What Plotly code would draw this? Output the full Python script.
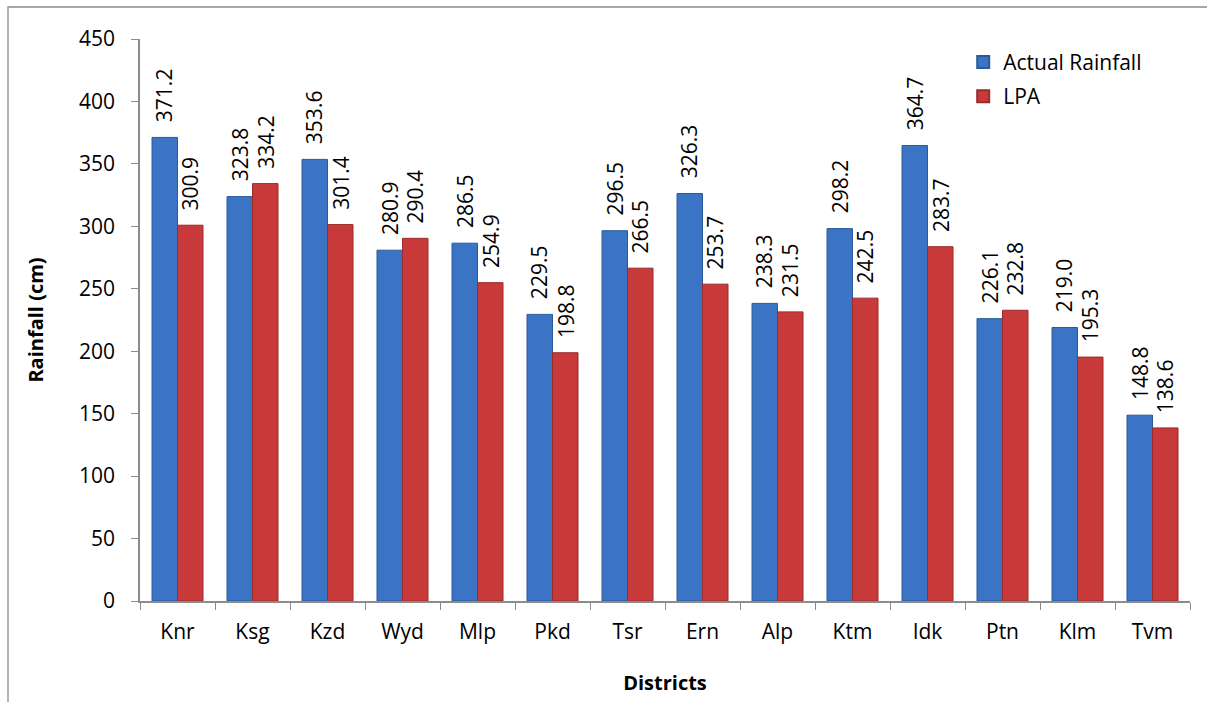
import plotly.graph_objects as go

districts = ["Knr", "Ksg", "Kzd", "Wyd", "Mlp", "Pkd", "Tsr", "Ern", "Alp", "Ktm", "Idk", "Ptn", "Klm", "Tvm"]
actual = [371.2, 323.8, 353.6, 280.9, 286.5, 229.5, 296.5, 326.3, 238.3, 298.2, 364.7, 226.1, 219.0, 148.8]
lpa = [300.9, 334.2, 301.4, 290.4, 254.9, 198.8, 266.5, 253.7, 231.5, 242.5, 283.7, 232.8, 195.3, 138.6]

FONT = "Open Sans"
BLUE = "#3b74c4"
RED = "#c83a3a"

fig = go.Figure()
fig.add_bar(x=districts, y=actual, name="Actual Rainfall", legendgroup="a",
            marker=dict(color=BLUE, line=dict(color="#2b5a9c", width=1)))
fig.add_bar(x=districts, y=lpa, name="LPA", legendgroup="b",
            marker=dict(color=RED, line=dict(color="#9c2b2b", width=1)))

for i, (a, l) in enumerate(zip(actual, lpa)):
    for off, v in ((-0.17, a), (0.17, l)):
        fig.add_annotation(x=i + off, y=v, xref="x", yref="y", text=f"{v:.1f}",
                           textangle=-90, showarrow=False, yanchor="bottom",
                           xanchor="center", yshift=13,
                           font=dict(family=FONT, size=21, color="#000"))

# outer chart frame (only left and top edges fall inside the picture)
fig.add_shape(type="rect", xref="paper", yref="paper",
              x0=(8 - 140) / 1050, x1=1.2, y0=-0.3, y1=(601 - 7) / 562,
              line=dict(color="#8c8c8c", width=1.3), fillcolor="rgba(0,0,0,0)", layer="below")

fig.update_layout(
    width=1207, height=702,
    margin=dict(l=140, r=17, t=39, b=101),
    paper_bgcolor="white", plot_bgcolor="white",
    barmode="group", bargap=0.32, bargroupgap=0,
    font=dict(family=FONT, size=21, color="#000"),
    showlegend=True,
    legend=dict(x=0.784, y=0.995, xanchor="left", yanchor="top",
                font=dict(family=FONT, size=21), itemsizing="constant", itemwidth=30,
                bgcolor="rgba(0,0,0,0)", tracegroupgap=4),
    xaxis=dict(title=dict(text="<b>Districts</b>", font=dict(family=FONT, size=20), standoff=32),
               showline=True, linecolor="#8c8c8c", linewidth=1.5,
               ticks="outside", tickson="boundaries", ticklen=7, tickcolor="#8c8c8c",
               ticklabelstandoff=11,
               showgrid=False, tickfont=dict(family=FONT, size=21)),
    yaxis=dict(title=dict(text="<b>Rainfall (cm)</b>", font=dict(family=FONT, size=20), standoff=30),
               range=[0, 450], dtick=50, showline=True, linecolor="#8c8c8c", linewidth=1.5,
               ticks="outside", ticklen=7, tickcolor="#8c8c8c", ticklabelstandoff=12,
               showgrid=False, zeroline=False, tickfont=dict(family=FONT, size=21)),
)

fig.write_html("out.html", config={"displayModeBar": False},
               post_script="document.body.style.margin='0';")
